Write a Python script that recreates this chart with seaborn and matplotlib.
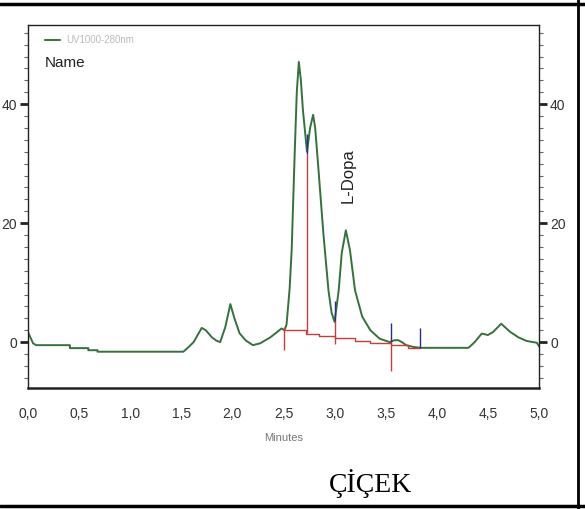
import numpy as np
import pandas as pd
import matplotlib
matplotlib.use("Agg")
import matplotlib.pyplot as plt
import seaborn as sns
from matplotlib.ticker import MultipleLocator, FixedLocator, FuncFormatter
from matplotlib.lines import Line2D

# ---------------- data ----------------
time_min = [0.00, 0.05, 0.08, 0.41, 0.41, 0.59, 0.59, 0.68, 0.68, 1.52, 1.56, 1.62,
            1.70, 1.74, 1.80, 1.84, 1.88, 1.93, 1.98, 2.02, 2.07, 2.13, 2.20, 2.27,
            2.32, 2.37, 2.43, 2.48, 2.51, 2.53, 2.56, 2.58, 2.61, 2.63, 2.65, 2.67,
            2.69, 2.73, 2.76, 2.79, 2.81, 2.84, 2.89, 2.94, 2.97, 3.00, 3.04, 3.07,
            3.11, 3.15, 3.20, 3.27, 3.35, 3.44, 3.54, 3.58, 3.62, 3.66, 3.70, 3.77,
            3.84, 4.31, 4.37, 4.44, 4.50, 4.55, 4.63, 4.72, 4.80, 4.88, 4.98, 5.00]
signal = [1.7, -0.2, -0.5, -0.5, -1.0, -1.0, -1.35, -1.35, -1.6, -1.6, -1.0, 0.0,
          2.4, 2.0, 0.8, 0.3, 0.0, 2.5, 6.4, 4.0, 1.5, 0.3, -0.5, -0.2,
          0.3, 0.8, 1.6, 2.3, 2.0, 3.0, 9.0, 15.5, 32.0, 42.0, 47.1, 44.0,
          39.0, 32.0, 36.0, 38.2, 36.0, 29.5, 18.3, 8.7, 5.0, 3.4, 8.7, 15.0,
          18.8, 15.5, 8.7, 4.3, 2.0, 0.6, 0.0, 0.3, 0.35, 0.0, -0.5, -0.8,
          -0.95, -0.95, 0.0, 1.45, 1.2, 1.7, 3.1, 1.7, 0.8, 0.2, -0.1, -0.7]

# integration baseline (red, stepped)
base_t = [2.50, 2.72, 2.85, 3.00, 3.20, 3.35, 3.55, 3.72, 3.84]
base_v = [2.0, 1.4, 1.0, 0.7, 0.2, -0.2, -0.4, -0.9, -0.9]

# peak delimiters
red_t = [2.50, 2.73, 3.00, 3.55]
red_lo = [-1.3, 1.5, -0.3, -4.9]
red_hi = [2.6, 31.7, 3.5, 0.0]
blue_t = [2.73, 3.00, 3.55, 3.84]
blue_lo = [31.7, 3.5, 0.0, -0.95]
blue_hi = [35.0, 7.0, 3.2, 2.4]

x_ticks = [0.0, 0.5, 1.0, 1.5, 2.0, 2.5, 3.0, 3.5, 4.0, 4.5, 5.0]
y_ticks = [0, 20, 40]

peak_label = "L-Dopa"
peak_label_t = 3.13
peak_label_v = 28

# ---------------- style ----------------
sns.set_style("white")
narrow = ["Liberation Sans Narrow", "Liberation Sans", "DejaVu Sans"]
plt.rcParams["font.family"] = narrow

fig = plt.figure(figsize=(5.85, 5.09), dpi=100)
ax = fig.add_axes([28/585, 1-388/509, (539-28)/585, (388-25)/509])

df = pd.DataFrame({"Minutes": time_min, "mAU": signal})
sns.lineplot(data=df, x="Minutes", y="mAU", estimator=None, sort=False,
             color="#33733a", lw=1.4, ax=ax)

ax.step(base_t, base_v, where="post", color="#cc3b3b", lw=1.0)
ax.vlines(red_t, red_lo, red_hi, color="#cc3b3b", lw=1.0)
ax.vlines(blue_t, blue_lo, blue_hi, color="#2c2c8c", lw=1.0)

ax.text(peak_label_t, peak_label_v, peak_label, rotation=90, ha="center",
        va="center", fontsize=12, color="#222222", family=["Liberation Sans", "DejaVu Sans"])

ax.set_xlim(0, 5)
ax.set_ylim(-7.7, 53.3)

ax.xaxis.set_major_locator(FixedLocator(x_ticks))
ax.xaxis.set_minor_locator(MultipleLocator(0.1))
ax.yaxis.set_major_locator(FixedLocator(y_ticks))
ax.yaxis.set_minor_locator(MultipleLocator(2))
ax.xaxis.set_major_formatter(FuncFormatter(lambda v, p: f"{v:.1f}".replace(".", ",")))
ax.yaxis.set_major_formatter(FuncFormatter(lambda v, p: f"{v:.0f}"))

ax.tick_params(axis="x", which="major", length=9, width=1.2, direction="out",
               labelsize=10, labelcolor="#333333", color="#222222", pad=5)
ax.tick_params(axis="x", which="minor", length=5, width=0.8, direction="out", color="#444444")
ax.tick_params(axis="y", which="major", length=6, width=2, direction="out",
               labelsize=10, labelcolor="#333333", color="#222222",
               left=True, right=True, labelleft=True, labelright=True, pad=2)
ax.tick_params(axis="y", which="minor", length=3, width=0.8, direction="out",
               color="#666666", left=True, right=True)

for s in ax.spines.values():
    s.set_visible(True)
    s.set_color("#222222")
    s.set_linewidth(1.0)
ax.spines["bottom"].set_linewidth(1.8)

ax.set_xlabel("Minutes", fontsize=8, color="#777777", labelpad=8)
ax.set_ylabel("")

# legend-like header
ax.add_line(Line2D([0.033, 0.062], [0.958, 0.958], transform=ax.transAxes,
                   color="#3c7a3c", lw=1.5))
ax.text(0.075, 0.958, "UV1000-280nm", transform=ax.transAxes, fontsize=7,
        color="#bbbbbb", va="center", ha="left")
ax.text(0.033, 0.895, "Name", transform=ax.transAxes, fontsize=11,
        color="#222222", va="center", ha="left")

# sample title below
fig.text(370/585, 1-484/509, "ÇİÇEK", fontsize=20, ha="center", va="center",
         family=["Liberation Serif", "DejaVu Serif"], color="black")

# surrounding frame
fig.add_artist(Line2D([0, 1], [1-4/509, 1-4/509], transform=fig.transFigure, color="black", lw=2.5))
fig.add_artist(Line2D([578/585, 578/585], [0, 1], transform=fig.transFigure, color="black", lw=2))
fig.add_artist(Line2D([0, 1], [1-506/509, 1-506/509], transform=fig.transFigure, color="black", lw=2.5))

fig.savefig("out.png", dpi=100)
